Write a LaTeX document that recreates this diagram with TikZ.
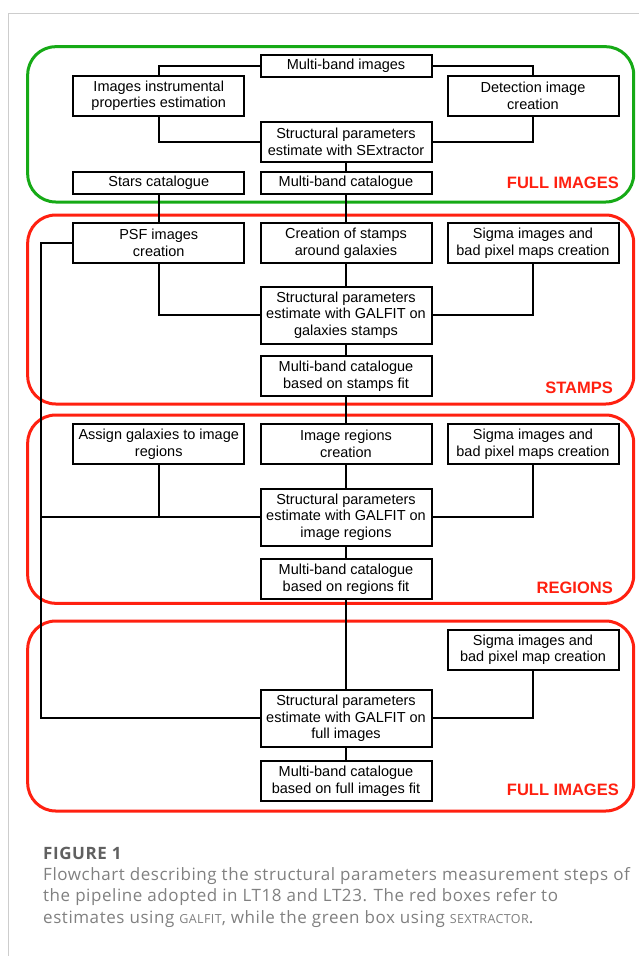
\documentclass[tikz,border=0pt]{standalone}
\usepackage{fontspec}
\setmainfont{Liberation Sans}
\newfontfamily\capfont[LetterSpace=3.3]{Open Sans}
\usetikzlibrary{positioning}
\definecolor{groupgreen}{RGB}{22,170,22}
\definecolor{groupred}{RGB}{255,32,16}
\definecolor{capgray}{RGB}{128,128,128}
\definecolor{framegray}{RGB}{205,205,205}

\begin{document}
\begin{tikzpicture}[
    x=1pt, y=-1pt,
    proc/.style={rectangle, draw, line width=2pt, fill=white, minimum width=171pt, inner xsep=2pt, inner ysep=1pt, align=center, font=\fontsize{14.5}{16.7}\selectfont},
    one/.style={proc, minimum height=22pt},
    two/.style={proc, minimum height=40pt},
    three/.style={proc, minimum height=57pt},
    group/.style={draw=#1, line width=3pt, rounded corners=28pt},
    tag/.style={anchor=east, text=groupred, inner sep=0pt, font=\fontsize{16.5}{18}\selectfont\bfseries},
    link/.style={line width=2pt},
    capline/.style={anchor=base west, inner sep=0pt, text=capgray, font=\capfont\fontsize{17}{20}\selectfont}
]
\useasboundingbox (0,0) rectangle (639,956);
% page frame
\draw[framegray, line width=1pt] (8.5,956) -- (8.5,13.5) -- (639,13.5);

% Groups
\draw[group=groupgreen] (27.7,46.7) rectangle (633.7,202);
\draw[group=groupred] (27.7,215) rectangle (633.7,404);
\draw[group=groupred] (27.7,415) rectangle (633.7,603.3);
\draw[group=groupred] (27.7,621) rectangle (633.7,811);
\node[tag] (tagfull) at (619,183) {FULL IMAGES};
\node[tag] (tagstamps) at (613,388) {STAMPS};
\node[tag] (tagregions) at (613,588) {REGIONS};
\node[tag] (tagfullfit) at (619,790) {FULL IMAGES};

% Full images - SExtractor
\node[one] (mbimg) at (346,66) {Multi-band images};
\node[two] (instr) at (158.75,95.7) {Images instrumental\\properties estimation};
\node[two] (detect) at (533,95.7) {Detection image\\creation};
\node[two] (sex) at (346,141.7) {Structural parameters\\estimate with SExtractor};
\node[one] (stars) at (158.75,183) {Stars catalogue};
\node[one] (mbcat) at (346,183) {Multi-band catalogue};

% Stamps
\node[two] (psf) at (158.75,243) {PSF images\\creation};
\node[two] (mkstamps) at (346,243) {Creation of stamps\\around galaxies};
\node[two] (sigstamps) at (533,243) {Sigma images and\\bad pixel maps creation};
\node[three] (fitstamps) at (346,315) {Structural parameters\\estimate with GALFIT on\\galaxies stamps};
\node[two] (catstamps) at (346,376) {Multi-band catalogue\\based on stamps fit};

% Regions
\node[two] (assign) at (158.75,444) {Assign galaxies to image\\regions};
\node[two] (mkregions) at (346,444) {Image regions\\creation};
\node[two] (sigregions) at (533,444) {Sigma images and\\bad pixel maps creation};
\node[three] (fitregions) at (346,517) {Structural parameters\\estimate with GALFIT on\\image regions};
\node[two] (catregions) at (346,579) {Multi-band catalogue\\based on regions fit};

% Full images - GALFIT
\node[two] (sigfull) at (533,649.7) {Sigma images and\\bad pixel map creation};
\node[three] (fitfull) at (346,718.3) {Structural parameters\\estimate with GALFIT on\\full images};
\node[two] (catfull) at (346,781.3) {Multi-band catalogue\\based on full images fit};

\coordinate (spine) at (41,0);

% Connectors
\draw[link] (mbimg.west) -| (instr.north);
\draw[link] (mbimg.east) -| (detect.north);
\draw[link] (instr.south) |- (sex.west);
\draw[link] (detect.south) |- (sex.east);
\draw[link] (sex.south) -- (mbcat.north);
\draw[link] (stars.south) -- (psf.north);
\draw[link] (mbcat.south) -- (mkstamps.north);

\draw[link] (psf.south) |- (fitstamps.west);
\draw[link] (mkstamps.south) -- (fitstamps.north);
\draw[link] (sigstamps.south) |- (fitstamps.east);
\draw[link] (fitstamps.south) -- (catstamps.north);
\draw[link] (catstamps.south) -- (mkregions.north);

% PSF line running down the left side
\draw[link] (psf.west) -| (spine |- fitfull.west) -- (fitfull.west);
\draw[link] (spine |- fitregions.west) -- (fitregions.west);
\draw[link] (assign.south) -- (assign.south |- fitregions.west);
\draw[link] (mkregions.south) -- (fitregions.north);
\draw[link] (sigregions.south) |- (fitregions.east);
\draw[link] (fitregions.south) -- (catregions.north);

\draw[link] (catregions.south) -- (fitfull.north);
\draw[link] (sigfull.south) |- (fitfull.east);
\draw[link] (fitfull.south) -- (catfull.north);

% Caption
\node[capline, text=capgray!75!black, font=\capfont\fontsize{17}{20}\selectfont\bfseries] (figlabel) at (43,859) {FIGURE 1};
\node[capline] (capone) at (43,880) {Flowchart describing the structural parameters measurement steps of};
\node[capline] (captwo) at (43,901.5) {the pipeline adopted in LT18 and LT23. The red boxes refer to};
\node[capline] (capthree) at (43,923) {estimates using {\fontsize{12.5}{14}\selectfont GALFIT}, while the green box using {\fontsize{12.5}{14}\selectfont SEXTRACTOR}.};
\end{tikzpicture}
\end{document}
